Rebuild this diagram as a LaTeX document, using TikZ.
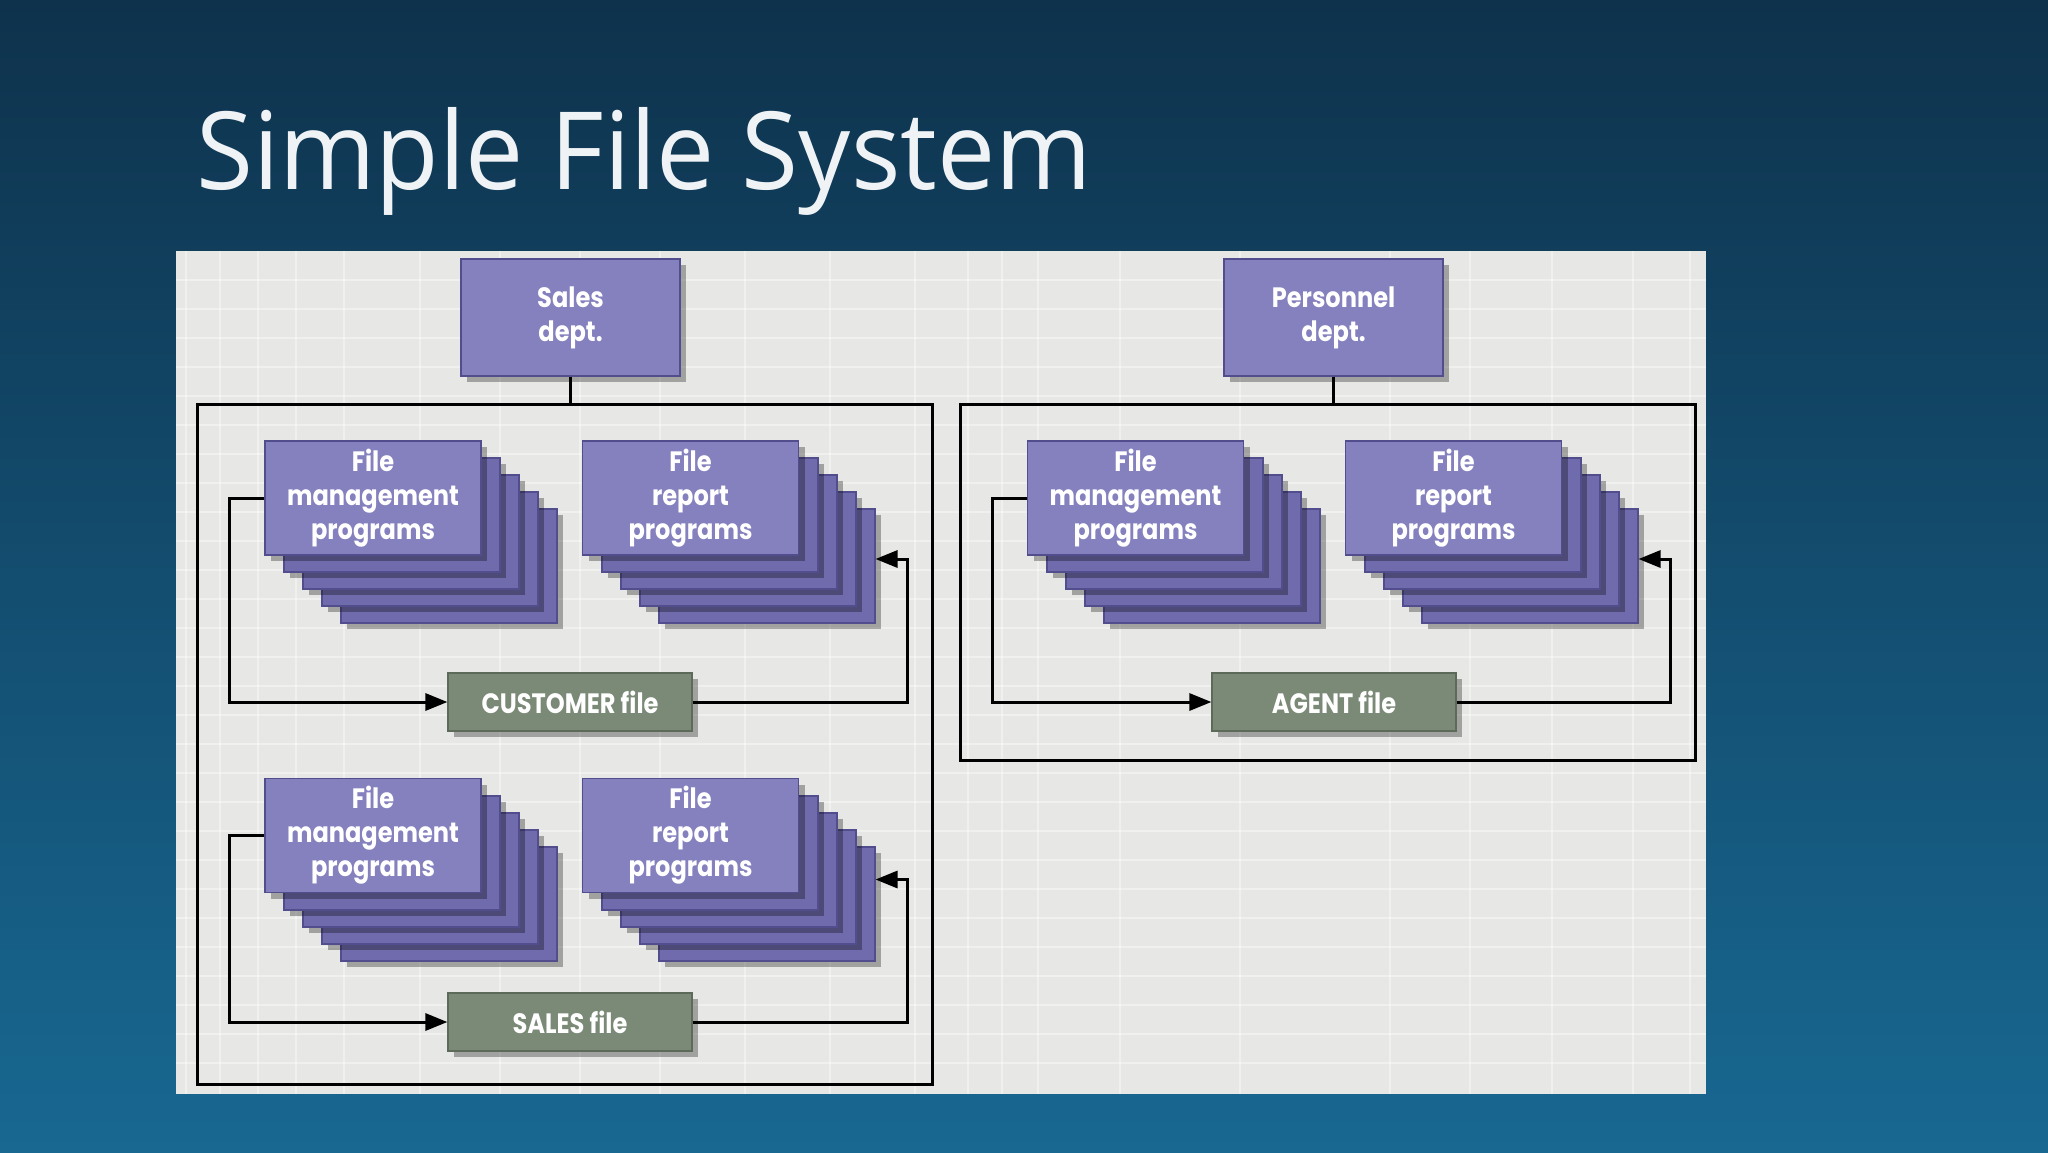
\documentclass[tikz,border=0pt]{standalone}
\usepackage{fontspec}
\setmainfont{Open Sans}
\newfontfamily\boxfont[FakeStretch=0.86]{Poppins}
\newfontfamily\titlefont[FakeStretch=0.96]{Open Sans}
\usetikzlibrary{arrows.meta,shadows,calc}
\definecolor{bgtop}{RGB}{14,50,76}
\definecolor{bgbot}{RGB}{24,104,146}
\definecolor{panelc}{RGB}{231,232,229}
\definecolor{purpF}{RGB}{132,129,190}
\definecolor{purpL}{RGB}{112,107,172}
\definecolor{purpD}{RGB}{82,78,142}
\definecolor{greenF}{RGB}{122,138,119}
\definecolor{greenD}{RGB}{92,106,90}
\definecolor{titlec}{RGB}{240,243,246}
\tikzset{
  boxtext/.style={text=white, font=\boxfont\bfseries\fontsize{14}{17}\selectfont, align=center, inner sep=0pt},
  shad/.style={drop shadow={shadow xshift=3pt, shadow yshift=-3pt, opacity=0.3, fill=black}},
  dept/.style={boxtext, shad, fill=purpF, draw=purpD, line width=0.6pt, minimum width=109.5pt, minimum height=58.5pt},
  prog/.style={boxtext, shad, fill=purpF, draw=purpD, line width=0.6pt, minimum width=108pt, minimum height=57pt},
  layer/.style={shad, fill=purpL, draw=purpD, line width=1pt, minimum width=108pt, minimum height=57pt, inner sep=0pt},
  filebox/.style={boxtext, shad, fill=greenF, draw=greenD, line width=0.6pt, minimum width=122pt, minimum height=29pt},
  frame/.style={draw=black, line width=1.5pt, minimum width=367.5pt, inner sep=0pt},
  conn/.style={draw=black, line width=1.5pt},
  arr/.style={conn, -{Triangle[length=11pt, width=8.5pt]}},
  gridline/.style={draw=white, opacity=0.4, line width=1.2pt}
}
\newcommand\progstack[4]{%
  \foreach \k in {4,3,2,1}{\node[layer] (#1-\k) at (#2+19*\k,#3+17*\k) {};}
  \node[prog] (#1) at (#2,#3) {#4};
}
\begin{document}
\begin{tikzpicture}[x=0.5pt,y=-0.5pt]
\useasboundingbox (0,0) rectangle (2048,1152);
\shade[top color=bgtop, bottom color=bgbot] (0,0) rectangle (2048,1152);
% title
\node[anchor=base west, inner sep=0pt, text=titlec, font=\titlefont\fontsize{54}{60}\selectfont] (title) at (196,189) {Simple File System};
% panel
\fill[panelc] (176,251) rectangle (1706,1094);
\foreach \yy in {280,309,338,367,396,425,454,483,512,541,570,599,628,657,686,715,744,773,802,831,860,889,918,947,976,1005,1034,1063}
  \draw[gridline] (176,\yy) -- (1706,\yy);
\foreach \xx in {186,220,258,296,344,420,500,580,660,745,830,915,968,1002,1038,1120,1240,1390,1470,1552,1633,1690}
  \draw[gridline] (\xx,251) -- (\xx,1094);
% frames
\node[frame, minimum height=340pt] (lf) at (564.5,744) {};
\node[frame, minimum height=178pt] (rf) at (1327.5,582) {};
% departments
\node[dept] (sales) at (570.5,317.5) {Sales\\dept.};
\node[dept] (pers) at (1333.5,317.5) {Personnel\\dept.};
\draw[conn] (sales.south) -- (sales.south |- lf.north);
\draw[conn] (pers.south) -- (pers.south |- rf.north);
% program stacks
\progstack{sm1}{373}{498}{File\\management\\programs}
\progstack{sr1}{690.5}{498}{File\\report\\programs}
\progstack{sm2}{373}{835.5}{File\\management\\programs}
\progstack{sr2}{690.5}{835.5}{File\\report\\programs}
\progstack{pm}{1135.5}{498}{File\\management\\programs}
\progstack{pr}{1453.5}{498}{File\\report\\programs}
% files
\node[filebox] (cust) at (570,702) {CUSTOMER file};
\node[filebox] (sfile) at (570,1022) {SALES file};
\node[filebox] (agent) at (1334,702) {AGENT file};
% connectors
\draw[arr] (sm1.west) -- ++(-35,0) |- (cust.west);
\draw[arr] (cust.east) -| ($(sr1-4.east)+(31.5,-7)$) -- ($(sr1-4.east)+(0,-7)$);
\draw[arr] (sm2.west) -- ++(-35,0) |- (sfile.west);
\draw[arr] (sfile.east) -| ($(sr2-4.east)+(31.5,-24)$) -- ($(sr2-4.east)+(0,-24)$);
\draw[arr] (pm.west) -- ++(-34.5,0) |- (agent.west);
\draw[arr] (agent.east) -| ($(pr-4.east)+(31.5,-7)$) -- ($(pr-4.east)+(0,-7)$);
\end{tikzpicture}
\end{document}
